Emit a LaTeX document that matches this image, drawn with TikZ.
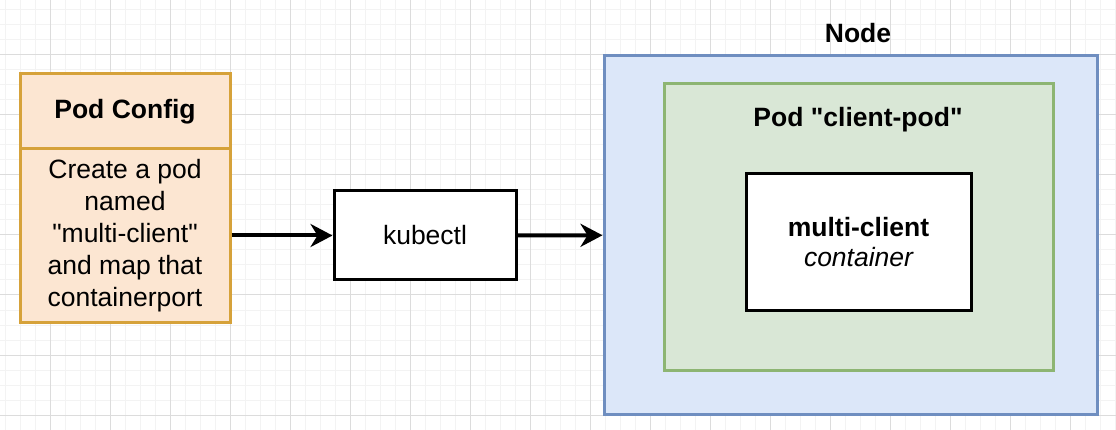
\documentclass[tikz,border=0pt]{standalone}
\usepackage{fontspec}
\setmainfont{Liberation Sans}
\usepackage{tikz}
\usetikzlibrary{arrows.meta}
\definecolor{cfgfill}{HTML}{FCE6D2}
\definecolor{cfgdraw}{HTML}{D6A23A}
\definecolor{nodefill}{HTML}{DCE7F9}
\definecolor{nodedraw}{HTML}{6F8EC0}
\definecolor{podfill}{HTML}{D9E7D6}
\definecolor{poddraw}{HTML}{8DB573}
\definecolor{minorgrid}{HTML}{F3F3F3}
\definecolor{majorgrid}{HTML}{DCDCDC}
\tikzset{%
  myedge/.style={-{Stealth[length=22pt, width=23pt, inset=7pt]}, line width=4pt},
  mybox/.style={rectangle, draw=black, fill=white, line width=3pt, align=center, inner sep=0pt},
  cfgbox/.style={mybox, draw=cfgdraw, fill=cfgfill},
  mytext/.style={font=\fontsize{26.5}{32}\selectfont}
}

\begin{document}
\begin{tikzpicture}[x=1pt, y=-1pt, mytext]
  \tikzset{myedge/.style={-{Stealth[length=22pt, width=23pt, inset=7pt]}, line width=4pt}};

\useasboundingbox (0,0) rectangle (1116,430);
\fill [white] (0,0) rectangle (1116,430);

% grid
\foreach \x in {5,20,...,1115} {
  \draw [minorgrid, line width=1pt] (\x,0) -- (\x,430);
}
\foreach \y in {10,25,...,430} {
  \draw [minorgrid, line width=1pt] (0,\y) -- (1116,\y);
}
\foreach \x in {50,110,...,1115} {
  \draw [majorgrid, line width=1pt] (\x,0) -- (\x,430);
}
\foreach \y in {55,115,...,430} {
  \draw [majorgrid, line width=1pt] (0,\y) -- (1116,\y);
}

% pod config
\node [cfgbox, minimum width=210pt, minimum height=75pt] (CfgHead) at (125,111.5) {\bfseries Pod Config};
\node [cfgbox, minimum width=210pt, minimum height=173pt] (CfgBody) at (125,235.5)
  {Create a pod\\named\\\textquotedbl multi-client\textquotedbl\\and map that\\containerport};

\node [mybox, minimum width=182pt, minimum height=89pt] (Kubectl) at (425,235.5) {kubectl};

% node, pod, container
\node [mybox, draw=nodedraw, fill=nodefill, minimum width=493pt, minimum height=358pt] (Node) at (850.5,235) {};
\node (NodeLabel) at (858,33) {\bfseries Node};
\node [mybox, draw=poddraw, fill=podfill, minimum width=389pt, minimum height=286pt] (Pod) at (858.5,227) {};
\node (PodLabel) at (858,120) {\bfseries Pod \textquotedbl client-pod\textquotedbl};
\node [mybox, minimum width=225pt, minimum height=136pt] (Container) at (858.5,242)
  {\bfseries multi-client\\[-2pt]\itshape container};

\draw [myedge] (CfgBody) -- (Kubectl);
\draw [myedge] (Kubectl) -- (Node);

\end{tikzpicture}
\end{document}
